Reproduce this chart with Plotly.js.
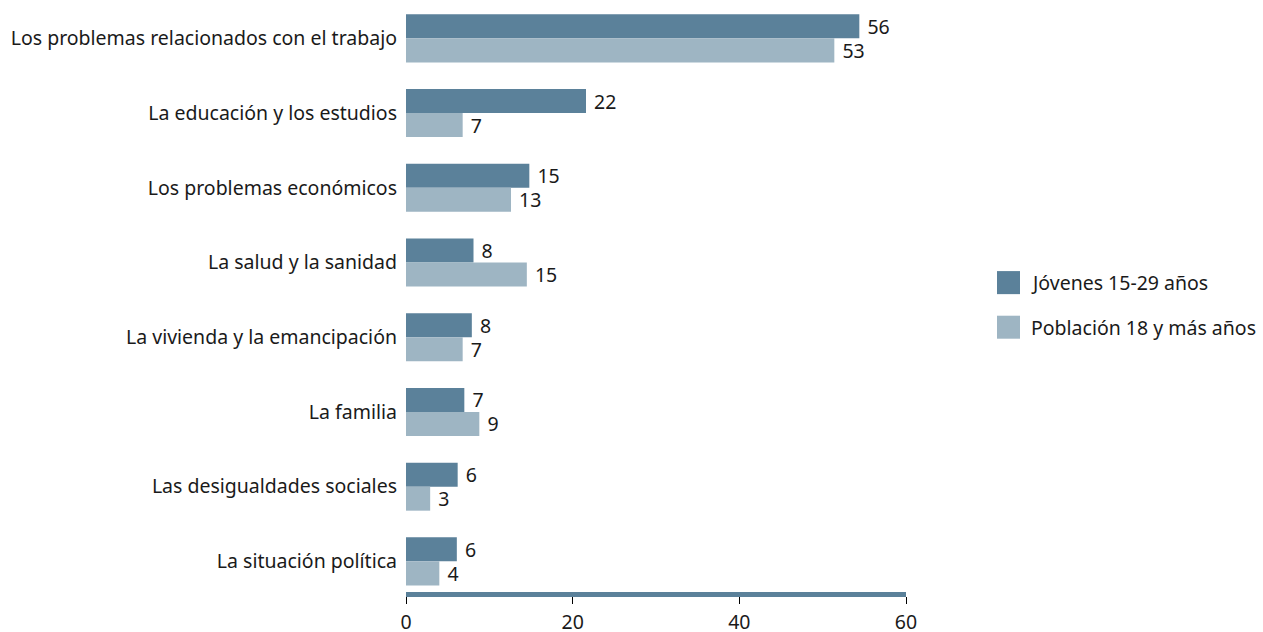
<!DOCTYPE html>
<html>
<head>
<meta charset="utf-8">
<script src="https://cdn.plot.ly/plotly-3.0.1.min.js"></script>
<style>html,body{margin:0;padding:0;background:#fff;}#chart{width:1263px;height:632px;}</style>
</head>
<body>
<div id="chart"></div>
<script>
var categories = [
  'Los problemas relacionados con el trabajo',
  'La educación y los estudios',
  'Los problemas económicos',
  'La salud y la sanidad',
  'La vivienda y la emancipación',
  'La familia',
  'Las desigualdades sociales',
  'La situación política'
];
var seriesNames = ['Jóvenes 15-29 años', 'Población 18 y más años'];
var jovenes = [54.4, 21.6, 14.8, 8.1, 7.9, 7.0, 6.2, 6.1];
var poblacion = [51.4, 6.8, 12.6, 14.5, 6.8, 8.8, 2.9, 4.0];
var jovenesLabels = ['56', '22', '15', '8', '8', '7', '6', '6'];
var poblacionLabels = ['53', '7', '13', '15', '7', '9', '3', '4'];
var xTicks = [0, 20, 40, 60];

var DARK = '#5b819a', LIGHT = '#9eb5c3', TXT = '#1a1a1a';
var FONT = 'Noto Sans, sans-serif';
var FS = 19.5;

function barTrace(name, vals, labels, color) {
  return {
    type: 'bar', orientation: 'h', name: name,
    x: vals, y: categories,
    text: labels, texttemplate: '\u00a0%{text}',
    textposition: 'outside', cliponaxis: false, constraintext: 'none',
    textfont: {family: FONT, size: FS, color: TXT},
    marker: {color: color, line: {width: 0}},
    hoverinfo: 'none', showlegend: false
  };
}

var data = [
  barTrace(seriesNames[0], jovenes, jovenesLabels, DARK),
  barTrace(seriesNames[1], poblacion, poblacionLabels, LIGHT)
];

var layout = {
  width: 1263, height: 632,
  margin: {l: 406, r: 357, t: 1, b: 40, pad: 0},
  paper_bgcolor: '#ffffff', plot_bgcolor: '#ffffff',
  font: {family: FONT, size: FS, color: TXT},
  barmode: 'group', bargap: 0.357, bargroupgap: 0,
  showlegend: false,
  xaxis: {
    range: [0, 60], tickvals: xTicks, ticktext: xTicks.map(String),
    showgrid: false, zeroline: false,
    showline: true, linecolor: DARK, linewidth: 5,
    ticks: 'outside', ticklen: 7, tickwidth: 1, tickcolor: '#000',
    ticklabelstandoff: 2,
    tickfont: {family: FONT, size: FS, color: TXT}
  },
  yaxis: {
    type: 'category', range: [7.41, -0.5],
    showgrid: false, zeroline: false, showline: false,
    ticks: '', ticklabelstandoff: 8,
    tickfont: {family: FONT, size: FS, color: TXT}
  },
  shapes: [
    {type: 'rect', xref: 'paper', yref: 'paper', x0: 1.182, x1: 1.228, y0: 0.504, y1: 0.543, fillcolor: DARK, line: {width: 0}},
    {type: 'rect', xref: 'paper', yref: 'paper', x0: 1.182, x1: 1.228, y0: 0.4286, y1: 0.4675, fillcolor: LIGHT, line: {width: 0}}
  ],
  annotations: [
    {xref: 'paper', yref: 'paper', x: 1.245, y: 0.524, xanchor: 'left', yanchor: 'middle', text: seriesNames[0], showarrow: false, font: {family: FONT, size: FS, color: TXT}},
    {xref: 'paper', yref: 'paper', x: 1.245, y: 0.448, xanchor: 'left', yanchor: 'middle', text: seriesNames[1], showarrow: false, font: {family: FONT, size: FS, color: TXT}}
  ]
};

Plotly.newPlot('chart', data, layout, {displayModeBar: false, staticPlot: true});
</script>
</body>
</html>
